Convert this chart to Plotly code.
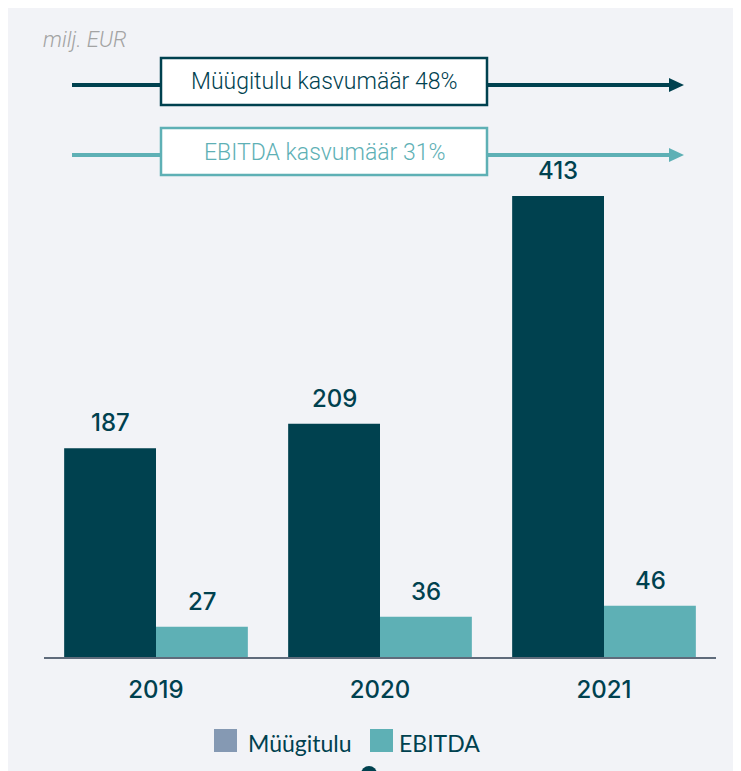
import plotly.graph_objects as go

years = ["2019", "2020", "2021"]
series_names = ["Müügitulu", "EBITDA"]
revenue = [187, 209, 413]
ebitda = [27, 36, 46]
growth_labels = ["Müügitulu kasvumäär 48%", "EBITDA kasvumäär 31%"]
unit_label = "milj. EUR"

DARK = "#00414f"
TEAL = "#5eb0b5"
LEG1 = "#8599b3"
BG = "#f2f3f7"
FONT = "Inter"

OFF = 8  # page body margin
W, H = 733, 790
L, R, T = 36, 25, 12
PW = W - L - R
BASE = 657 - OFF  # baseline in figure px
B = H - BASE
PH = H - T - B


def px(xp):
    return (xp - OFF - L) / PW


def py(yp):
    return (BASE - (yp - OFF)) / PH


fig = go.Figure()
fig.add_bar(x=years, y=revenue, name=series_names[0], marker=dict(color=DARK, line=dict(width=0)), showlegend=False)
fig.add_bar(x=years, y=ebitda, name=series_names[1], marker=dict(color=TEAL, line=dict(width=0)), showlegend=False)

annotations = []
for vals, shift in ((revenue, -46), (ebitda, 46)):
    for i, v in enumerate(vals):
        annotations.append(dict(x=i, y=v, xref="x", yref="y", text=str(v), showarrow=False,
                                xshift=shift, yshift=9, yanchor="bottom",
                                font=dict(family=FONT, size=24, color=DARK, weight=500)))

shapes = []
# growth arrows
for label, color, yc in ((growth_labels[0], DARK, 85), (growth_labels[1], TEAL, 155)):
    shapes.append(dict(type="line", xref="paper", yref="paper", x0=px(72), x1=px(672), y0=py(yc), y1=py(yc),
                       line=dict(color=color, width=4)))
    shapes.append(dict(type="path", xref="paper", yref="paper",
                       path=f"M {px(669)} {py(yc-7)} L {px(684)} {py(yc)} L {px(669)} {py(yc+7)} Z",
                       fillcolor=color, line=dict(width=0)))
    shapes.append(dict(type="rect", xref="paper", yref="paper", x0=px(161), x1=px(487), y0=py(yc - 27), y1=py(yc + 20),
                       fillcolor="white", line=dict(color=color, width=2.5)))
    annotations.append(dict(x=px(324), y=py(yc - 3), xref="paper", yref="paper", text=label, showarrow=False,
                            font=dict(family="Roboto", size=23, color=color, weight=300),
                            xanchor="center", yanchor="middle"))

annotations.append(dict(x=px(41), y=py(40), xref="paper", yref="paper", text=f"<i>{unit_label}</i>", showarrow=False,
                        xanchor="left", yanchor="middle", font=dict(family="Roboto", size=22, color="#a3a3a3", weight=300)))

# legend (manual, large swatches)
for name, color, x0, tx in ((series_names[0], LEG1, 214, 246), (series_names[1], TEAL, 370, 397)):
    shapes.append(dict(type="rect", xref="paper", yref="paper", x0=px(x0), x1=px(x0 + 23), y0=py(729), y1=py(752),
                       fillcolor=color, line=dict(width=0)))
    annotations.append(dict(x=px(tx), y=py(743), xref="paper", yref="paper", text=name, showarrow=False,
                            xanchor="left", yanchor="middle", font=dict(family="Lato", size=23, color=DARK)))

# small dot at bottom
shapes.append(dict(type="circle", xref="paper", yref="paper", x0=px(361), x1=px(377), y0=py(766), y1=py(782),
                   fillcolor=DARK, line=dict(width=0)))

fig.update_layout(
    width=W, height=H,
    margin=dict(l=L, r=R, t=T, b=B),
    paper_bgcolor=BG, plot_bgcolor=BG,
    barmode="group", bargap=0.18, bargroupgap=0,
    shapes=shapes, annotations=annotations,
    showlegend=False,
    xaxis=dict(type="category", range=[-0.5, len(years) - 0.5], showline=True, linecolor="#5f6b7b", linewidth=2,
               showgrid=False, ticks="",
               tickfont=dict(family=FONT, size=24, color=DARK, weight=500), ticklabelstandoff=10, fixedrange=True),
    yaxis=dict(range=[0, PH / (461 / 413)], visible=False, showgrid=False, fixedrange=True),
)

fig.write_html("out.html")
